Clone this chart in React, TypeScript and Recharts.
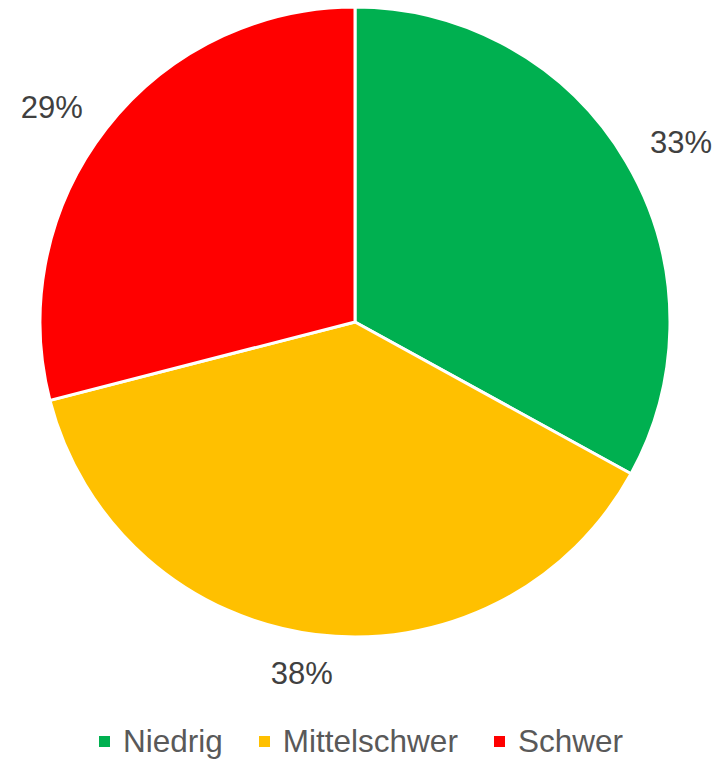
import { PieChart, Pie, Cell, Legend } from 'recharts'

const categories = ['Niedrig', 'Mittelschwer', 'Schwer']
const shares = [33, 38, 29]
const colors = ['#00B050', '#FFC000', '#FF0000']

const data = categories.map((name, i) => ({ name, value: shares[i] }))

const FONT = '"Liberation Sans", Arial, sans-serif'
const RAD = Math.PI / 180
// small angular nudges so the labels sit where the original put them
const LABEL_NUDGE = [-1.7, -1.4, 2.5]

// puts the % label just outside the slice, like an "outside end" label
function OutsideLabel(props: any) {
  const { cx, cy, midAngle, outerRadius, percent, index } = props
  const text = `${Math.round(percent * 100)}%`
  const w = text.length * 21
  const h = 24
  const a = (midAngle + (LABEL_NUDGE[index] ?? 0)) * RAD
  const cos = Math.cos(-a)
  const sin = Math.sin(-a)
  const d = outerRadius + 24 + Math.abs(cos) * w / 2 + Math.abs(sin) * h / 2
  return (
    <text
      x={cx + d * cos}
      y={cy + d * sin}
      fill="#404040"
      fontSize={31}
      fontFamily={FONT}
      textAnchor="middle"
      dominantBaseline="central"
    >
      {text}
    </text>
  )
}

function LegendContent() {
  return (
    <div style={{ display: 'flex', justifyContent: 'center', gap: 36, paddingLeft: 4, fontFamily: FONT, fontSize: 31.5, color: '#595959' }}>
      {categories.map((c, i) => (
        <span key={c} style={{ display: 'flex', alignItems: 'center' }}>
          <span style={{ width: 11, height: 11, background: colors[i], marginRight: 13, display: 'inline-block' }} />
          {c}
        </span>
      ))}
    </div>
  )
}

export default function App() {
  return (
    <div style={{ position: 'absolute', left: 0, top: 0, background: '#fff' }}>
      <PieChart width={718} height={761} margin={{ top: 0, right: 0, bottom: 0, left: 0 }}>
        <Pie
          data={data}
          dataKey="value"
          nameKey="name"
          cx={355}
          cy={322}
          outerRadius={315}
          startAngle={90}
          endAngle={-270}
          stroke="#fff"
          strokeWidth={3}
          label={OutsideLabel}
          labelLine={false}
          isAnimationActive={false}
        >
          {data.map((d, i) => <Cell key={d.name} fill={colors[i]} />)}
        </Pie>
        <Legend
          content={<LegendContent />}
          wrapperStyle={{ position: 'absolute', top: 723, left: 0, width: 718, height: 40 }}
        />
      </PieChart>
    </div>
  )
}
